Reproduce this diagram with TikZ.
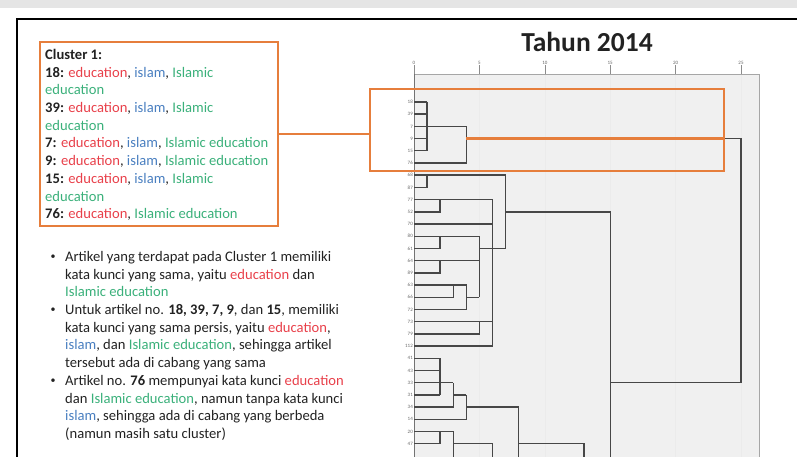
\documentclass[tikz,border=0pt]{standalone}
\usepackage{fontspec}
\setmainfont{Carlito}
\definecolor{ink}{HTML}{222222}
\definecolor{edured}{HTML}{E8404A}
\definecolor{islblue}{HTML}{4A7FC0}
\definecolor{isgreen}{HTML}{3AB07A}
\definecolor{hlorange}{HTML}{E67E3C}
\definecolor{plotbg}{HTML}{F0F0F0}
\newcommand\kwedu{\textcolor{edured}{education}}
\newcommand\kwisl{\textcolor{islblue}{islam}}
\newcommand\kwisled{\textcolor{isgreen}{Islamic education}}
\newcommand\kwgr[1]{\textcolor{isgreen}{#1}}

\begin{document}
\begin{tikzpicture}[
    x=1pt, y=-1pt,
    txt/.style={font=\fontsize{14.6}{17.7}\selectfont, text=ink, align=left, inner sep=0pt, anchor=north west},
    bulletdot/.style={font=\fontsize{10}{10}\selectfont, text=ink, inner sep=0pt},
    clusterbox/.style={draw=hlorange, line width=2.2pt, minimum width=238pt, minimum height=184pt, inner sep=0pt},
    hlbox/.style={draw=hlorange, line width=2.2pt, minimum width=354pt, minimum height=82pt},
    hlline/.style={draw=hlorange, line width=2.2pt},
    dendro/.style={draw=black!72, line width=1.4pt},
    leaf/.style={font=\fontsize{5}{5}\selectfont, text=black!60, anchor=east, inner sep=1pt},
]
\useasboundingbox (0,0) rectangle (797,457);

% Slide frame
\fill[black!10] (0,0) rectangle (797,8);
\draw[line width=2.5pt] (17,457) -- (17,19) -- (797,19);

% Title
\node[font=\bfseries\fontsize{27.5}{30}\selectfont, text=ink] (title) at (587,42) {Tahun 2014};

% Cluster 1 box
\node[clusterbox] (cluster) at (159,134) {};
\node[txt] (clustertext) at (45,49) {\textbf{Cluster 1:}\\
\textbf{18:} \kwedu, \kwisl, \kwgr{Islamic}\\
\kwgr{education}\\
\textbf{39:} \kwedu, \kwisl, \kwgr{Islamic}\\
\kwgr{education}\\
\textbf{7:} \kwedu, \kwisl, \kwisled\\
\textbf{9:} \kwedu, \kwisl, \kwisled\\
\textbf{15:} \kwedu, \kwisl, \kwgr{Islamic}\\
\kwgr{education}\\
\textbf{76:} \kwedu, \kwisled};

% Bullets
\node[bulletdot] (bullet1) at (53,257) {\textbullet};
\node[txt] (item1) at (65,251) {Artikel yang terdapat pada Cluster 1 memiliki\\
kata kunci yang sama, yaitu \kwedu{} dan\\
\kwisled};
\node[bulletdot] (bullet2) at (53,310) {\textbullet};
\node[txt] (item2) at (65,304) {Untuk artikel no. \textbf{18, 39, 7, 9}, dan \textbf{15}, memiliki\\
kata kunci yang sama persis, yaitu \kwedu,\\
\kwisl, dan \kwisled, sehingga artikel\\
tersebut ada di cabang yang sama};
\node[bulletdot] (bullet3) at (53,381) {\textbullet};
\node[txt] (item3) at (65,375) {Artikel no. \textbf{76} mempunyai kata kunci \kwedu\\
dan \kwisled, namun tanpa kata kunci\\
\kwisl, sehingga ada di cabang yang berbeda\\
(namun masih satu cluster)};

% Dendrogram (level, row)
\begin{scope}[shift={(414,102)}, x=13.08pt, y=-12.2pt]
  \fill[plotbg] (0,-2.3) rectangle (26.38,29.2);
  \foreach \t in {5,10,...,25}
    \draw[black!8, line width=0.6pt] (\t,-2.3) -- (\t,29.2);
  \draw[black!35, line width=0.8pt] (0,-2.3) -- (26.38,-2.3) -- (26.38,29.2);
  \draw[black!55, line width=1pt] (0,-3) -- (0,29.2);
  \foreach \t in {0,5,...,25} {
    \draw[black!45, line width=0.6pt] (\t,-3) -- (\t,-2.3);
    \node[leaf, anchor=south] (tick\t) at (\t,-3) {\t};
  }
  \foreach \lab [count=\i from 0] in {18,39,7,9,15,76,68,87,77,52,70,80,61,64,89,63,66,72,73,79,112,41,43,33,31,34,14,20,47}
    \node[leaf] (leaf\i) at (0,\i) {\lab};

  % cluster 1
  \foreach \r in {0,...,4}
    \draw[dendro] (0,\r) -- (1,\r);
  \draw[dendro] (1,0) -- (1,4);
  \draw[dendro] (1,2) -- (4,2);
  \draw[dendro] (0,5) -| (4,2);
  \coordinate (join1) at (4,3);
  \draw[dendro] (join1) -| (25,23) -- (15,23);
  \draw[dendro] (7,9) -- (15,9) -- (15,29.2);

  % middle group
  \draw[dendro] (0,6) -| (1,7) -- (0,7);
  \draw[dendro] (1,6) -- (7,6) -- (7,12);
  \draw[dendro] (0,8) -| (2,9) -- (0,9);
  \draw[dendro] (2,8) -- (6,8) -- (6,20) -- (0,20);
  \draw[dendro] (0,10) -- (6,10);
  \draw[dendro] (0,11) -| (2,12) -- (0,12);
  \draw[dendro] (0,13) -| (2,14) -- (0,14);
  \draw[dendro] (2,11) -- (5,11) -- (5,16);
  \draw[dendro] (2,13) -- (5,13);
  \draw[dendro] (0,15) -| (4,17) -- (0,17);
  \draw[dendro] (0,16) -| (3,15);
  \draw[dendro] (4,16) -- (5,16);
  \draw[dendro] (5,12) -- (7,12);
  \draw[dendro] (0,18) -| (5,19) -- (0,19);
  \draw[dendro] (5,18) -- (6,18);

  % bottom group
  \foreach \r in {21,...,24}
    \draw[dendro] (0,\r) -- (2,\r);
  \draw[dendro] (2,21) -- (2,24);
  \draw[dendro] (2,23) -- (3,23);
  \draw[dendro] (0,25) -| (3,23);
  \draw[dendro] (3,24) -- (4,24);
  \draw[dendro] (0,26) -| (4,24);
  \draw[dendro] (4,25) -| (8,29.2);
  \draw[dendro] (0,27) -| (2,28) -- (0,28);
  \draw[dendro] (2,27) -| (3,29.2);
  \draw[dendro] (3,28) -| (6,29.2);
  \draw[dendro] (8,28) -| (13,29.2);
\end{scope}

% Highlight of cluster 1
\node[hlbox] (hl) at (547,130) {};
\draw[hlline] (cluster.east) -- (cluster.east -| hl.west);
\draw[hlline] (join1) -- (join1 -| hl.east);

\end{tikzpicture}
\end{document}
